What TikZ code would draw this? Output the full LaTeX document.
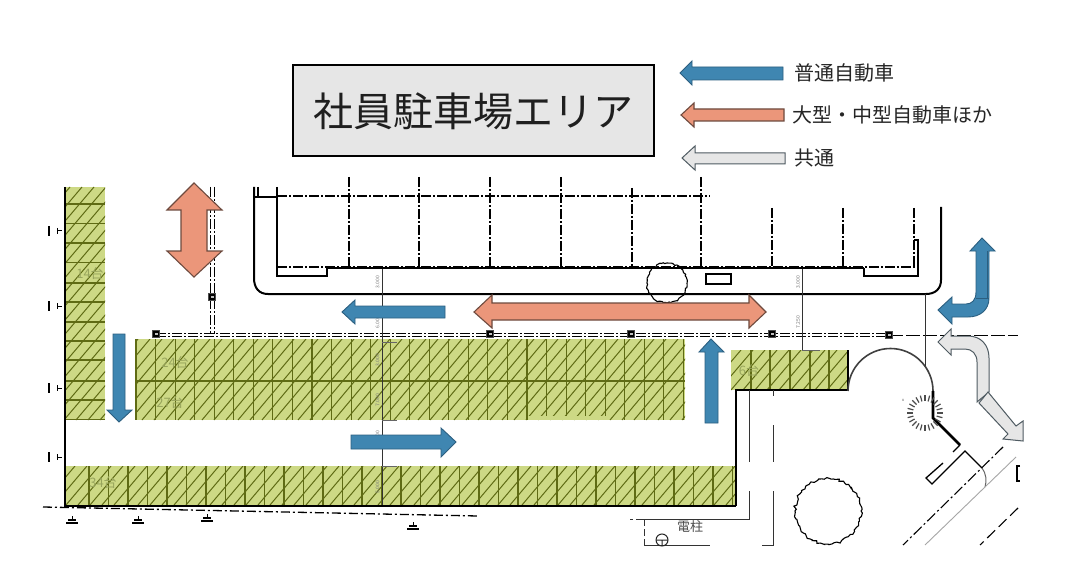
\documentclass[tikz,border=0pt]{standalone}
\usepackage{fontspec}
\setmainfont{Noto Sans CJK JP}
\usetikzlibrary{decorations.pathmorphing}
\definecolor{bluearrow}{HTML}{3F86B1}
\definecolor{bluedge}{HTML}{2C5F80}
\definecolor{salmon}{HTML}{EB967A}
\definecolor{salmonedge}{HTML}{6E4A3E}
\definecolor{grayarrow}{HTML}{E6E6E6}
\definecolor{grayedge}{HTML}{4F5B62}
\definecolor{parkgreen}{HTML}{CDD985}
\definecolor{hatch}{HTML}{5F6B14}
\definecolor{lbl}{HTML}{98A55C}
\definecolor{dim}{HTML}{777777}
\tikzset{
  blueshape/.style={fill=bluearrow,draw=bluedge,line width=.9pt,line join=miter},
  salmonshape/.style={fill=salmon,draw=salmonedge,line width=1.1pt,line join=miter},
  grayshape/.style={fill=grayarrow,draw=grayedge,line width=1pt,line join=miter},
  wall/.style={line width=2.7pt,black},
  thin line/.style={line width=1pt,black!80},
  medium/.style={line width=1.3pt,black},
  dashdot/.style={line width=1.2pt,black,dash pattern=on 10pt off 2pt on 2pt off 2pt},
  gridline/.style={line width=1.1pt,hatch},
  hatchline/.style={line width=1pt,hatch},
  parklabel/.style={text=lbl,font=\fontsize{13}{15}\selectfont,inner sep=0pt},
  dimlabel/.style={text=dim,font=\fontsize{5}{6}\selectfont,inner sep=0pt,rotate=90},
  legendlabel/.style={text=black!85,font=\fontsize{20}{24}\selectfont,inner sep=0pt,anchor=west},
  post/.style={fill=black,draw=black!70,line width=.8pt,minimum size=7.5pt,inner sep=0pt},
}
\begin{document}
\begin{tikzpicture}[x=1pt,y=-1pt]
\useasboundingbox (0,0) rectangle (1075,577);
\fill[white] (0,0) rectangle (1075,577);

% title
\node[draw=black,line width=2pt,fill=grayarrow,minimum width=361pt,minimum height=91pt,inner sep=0pt,font=\fontsize{40}{46}\selectfont,text=black!88] (title) at (473,111) {社員駐車場エリア};

% building
\draw[line width=2pt] (254,187) -- (254,278) .. controls (254,288) and (259,294) .. (268,294) -- (926,294) .. controls (935,294) and (941,289) .. (941,280) -- (941,207);
\draw[line width=2pt] (254,197) -- (277,197);
\draw[medium] (258,187) -- (258,197);
\draw[medium] (277,187) -- (277,276) -- (327,276) -- (327,268);
\draw[medium] (864,268) -- (864,276) -- (918,276) -- (918,240) -- (914,240);
\draw[line width=1.8pt] (327,268) -- (864,268);
\draw[dashdot] (277,196) -- (710,196);
\draw[dashdot] (277,267) -- (915,267);
\foreach \x/\y in {349/177,419/177,490/177,561/177,632/188,701/177,772/208,843/208,914/208}
  \draw[dashdot] (\x,\y) -- (\x,267);
\draw[medium] (706,274) rectangle (731,284);

% trees
\draw[line width=1.1pt,decorate,decoration={random steps,segment length=2pt,amplitude=1pt}] (667,283) circle[radius=20];
\draw[line width=1.1pt,decorate,decoration={random steps,segment length=2.5pt,amplitude=1.4pt}] (828,511) circle[radius=33];

% fences
\draw[dashdot,line width=1pt] (156,333) -- (889,333);
\draw[dashdot,line width=1pt] (156,336) -- (889,336);
\draw[dashdot,line width=1pt] (210,187) -- (210,334);
\draw[dashdot,line width=1pt] (214,187) -- (214,334);
\draw[line width=1pt,dash pattern=on 14pt off 3pt] (889,335) -- (1018,335);

% parking fills
\fill[parkgreen] (65,187) rectangle (105,420);
\fill[parkgreen] (136,339) rectangle (685,420);
\fill[parkgreen] (66,466) rectangle (736,505);
\fill[parkgreen] (731,350) rectangle (848,390);

% hatching
\begin{scope}
  \clip (65,187) rectangle (105,420);
  \foreach \i in {0,...,21} \draw[hatchline] ({-140+12*\i},420) -- ({-140+12*\i+198},187);
\end{scope}
\begin{scope}
  \clip (136,339) rectangle (685,420);
  \foreach \i in {0,...,53} \draw[hatchline] ({70+12*\i},420) -- ({70+12*\i+68},339);
\end{scope}
\begin{scope}
  \clip (66,466) rectangle (736,505);
  \foreach \i in {0,...,59} \draw[hatchline] ({30+12*\i},505) -- ({30+12*\i+33},466);
\end{scope}
\begin{scope}
  \clip (731,350) rectangle (848,390);
  \foreach \i in {0,...,13} \draw[hatchline] ({695+12*\i},390) -- ({695+12*\i+34},350);
\end{scope}

% stalls
\foreach \y in {204,223.5,243,262.5,283,302,322,341,360,381,400,419.5}
  \draw[gridline] (65,\y) -- (105,\y);
\draw[gridline] (136,381) -- (685,381);
\foreach \i in {0,...,28} \draw[gridline] ({136+19.55*\i},339) -- ({136+19.55*\i},420);
\foreach \i in {0,...,33} \draw[gridline] ({89+19.5*\i},466) -- ({89+19.5*\i},505);
\foreach \x in {751,770,790,810,829} \draw[gridline] (\x,350) -- (\x,390);
\fill[parkgreen] (528,416) rectangle (606,420);

% labels in parking
\node[parklabel] (p14) at (90,274) {14台};
\node[parklabel] (p24) at (175,363) {24台};
\node[parklabel] (p27) at (170,403) {27台};
\node[parklabel] (p34) at (103,483) {34台};
\node[parklabel] (p6)  at (749,371) {6台};

% walls
\draw[wall] (65,187) -- (65,506) -- (736,506);
\draw[wall] (736,506) -- (736,390) -- (849,390);
\draw[medium] (848,390) -- (848,350);
\draw[line width=1.6pt,black!75] (848,391) arc[start angle=180,end angle=360,radius=42.5];
\draw[wall] (933,391) -- (933,418) -- (960,445);
\draw[medium] (960,445) -- (953,452);
\draw[medium] (943,463) -- (926,478) -- (932,484) -- (965,451) -- (982,468);
\draw[line width=1pt,black!60] (982,468) .. controls (986,473) and (987,481) .. (985,487);

% dimension lines
\draw[thin line] (382,268) -- (382,505);
\draw[line width=1.8pt] (382,268.5) -- (397,268.5);
\foreach \y in {342,420,466} \draw[thin line,black!60] (382,\y) -- (397,\y);
\draw[thin line] (802,268) -- (802,350);
\draw[line width=1.8pt] (802,268.5) -- (820,268.5);
\draw[thin line,black!60] (802,350) -- (820,350);
\draw[thin line] (925,294) -- (925,366);
\foreach \y/\t in {282/3.000,322/6.000,360/3.000,400/7.000,437/6.000,487/5.000}
  \node[dimlabel] (dl\y) at (377.5,\y) {\t};
\node[dimlabel] (dr1) at (798,282) {3.000};
\node[dimlabel] (dr2) at (798,322) {7.250};

% road lines
\draw[thin line] (749,390) -- (749,462);
\draw[thin line] (749,491) -- (749,519) -- (636,519);
\draw[thin line] (630,519) -- (633,519);
\draw[thin line] (773,390) -- (773,396);
\draw[thin line] (773,425) -- (773,462);
\draw[thin line] (773,491) -- (773,545) -- (762,545);
\draw[thin line] (644,545) -- (710,545);
\draw[thin line,dash pattern=on 7pt off 3pt] (644,519) -- (644,545);
\draw[line width=1.3pt,black,dash pattern=on 9pt off 3pt on 2pt off 3pt] (43,507) -- (478,516);
\draw[line width=1.1pt,dash pattern=on 11pt off 3pt on 2pt off 3pt] (1003,447) -- (903,545);
\draw[line width=.9pt,black!35] (1016,457) -- (925,545);
\draw[line width=1.1pt,dash pattern=on 11pt off 5pt] (1018,508) -- (980,545);
\draw[medium] (1020,466) -- (1017,466) -- (1017,481) -- (1020,481);

% side marks
\foreach \y in {231,306,388,457}{
  \draw[line width=1.2pt] (49,\y-5) -- (49,\y+5);
  \draw[line width=1pt] (57,\y-3) -- (57,\y+3) (57,\y) -- (62,\y);
}
\foreach \x/\y in {72/519,138/519,207/517,413/525}{
  \draw[line width=1pt] (\x,\y-3) -- (\x,\y+1);
  \draw[line width=1.1pt] (\x-4,\y+1) -- (\x+4,\y+1);
  \draw[line width=1.2pt] (\x-6,\y+4) -- (\x+6,\y+4);
}

% spiky mark
\foreach \a in {0,15,...,345}
  \draw[line width=1.2pt,black!70] (925,413) ++(\a:12) -- ++(\a:6);
\node[inner sep=0pt,font=\fontsize{4}{5}\selectfont,text=black!70] (tinyx) at (903,400) {x};

% posts
\foreach \n/\x/\y in {a/156/334,b/212/297,c/490/334,d/631/334,e/772/334,f/889/335}{
  \node[post] (post\n) at (\x,\y) {};
  \fill[black!25] (\x-1.5,\y-1.5) rectangle (\x+1.5,\y+.5);
}

% utility pole
\node[inner sep=0pt,text=black!70,font=\fontsize{13}{15}\selectfont] (pole) at (690,527) {電柱};
\draw[line width=1pt,black!85] (662,540) circle[radius=6] (656,540) -- (668,540) (662,540) -- (662,546);

% map arrows
\draw[salmonshape] (194,183) -- (222,210) -- (207,210) -- (207,251) -- (222,251) -- (194,277) -- (167,251) -- (181,251) -- (181,210) -- (167,210) -- cycle;
\draw[salmonshape] (474,312) -- (492,295) -- (492,303) -- (749,303) -- (749,295) -- (766,312) -- (749,328) -- (749,320) -- (492,320) -- (492,328) -- cycle;
\draw[blueshape] (342,312) -- (355,300) -- (355,306) -- (445,306) -- (445,318) -- (355,318) -- (355,324) -- cycle;
\draw[blueshape] (119,422) -- (107,410) -- (113,410) -- (113,334) -- (125,334) -- (125,410) -- (132,410) -- cycle;
\draw[blueshape] (456,442) -- (441,428) -- (441,435) -- (351,435) -- (351,449) -- (441,449) -- (441,457) -- cycle;
\draw[blueshape] (711,339) -- (724,352) -- (718,352) -- (718,423) -- (705,423) -- (705,352) -- (699,352) -- cycle;
\draw[blueshape] (982,238) -- (995,251) -- (989,251) -- (989,298) .. controls (989,310) and (980,317) .. (968,317) -- (952,317) -- (952,324) -- (938,310) -- (952,297) -- (952,304) -- (966,304) .. controls (972,304) and (976,300) .. (976,292) -- (976,251) -- (970,251) -- cycle;
\draw[bluedge,line width=.8pt] (976,298) -- (989,298) (987,251) -- (987,298);
\draw[grayshape] (938,342) -- (951,329) -- (951,336) -- (968,336) .. controls (981,336) and (989,345) .. (989,358) -- (989,392) -- (977,402) -- (977,362) .. controls (977,354) and (972,349) .. (965,349) -- (951,349) -- (951,355) -- cycle;
\draw[grayshape] (988,392) -- (1016,426) -- (1023,421) -- (1023,441) -- (1003,439) -- (1008,434) -- (979,403) -- cycle;

% legend
\draw[blueshape] (680,73) -- (692,61) -- (692,67) -- (783,67) -- (783,80) -- (692,80) -- (692,85) -- cycle;
\draw[salmonshape] (681,115) -- (694,103) -- (694,109) -- (784,109) -- (784,121) -- (694,121) -- (694,127) -- cycle;
\draw[grayshape] (682,158) -- (695,146) -- (695,153) -- (785,153) -- (785,164) -- (695,164) -- (695,170) -- cycle;
\node[legendlabel] (leg1) at (794,73) {普通自動車};
\node[legendlabel] (leg2) at (792,115) {大型・中型自動車ほか};
\node[legendlabel] (leg3) at (794,158) {共通};
\end{tikzpicture}
\end{document}
